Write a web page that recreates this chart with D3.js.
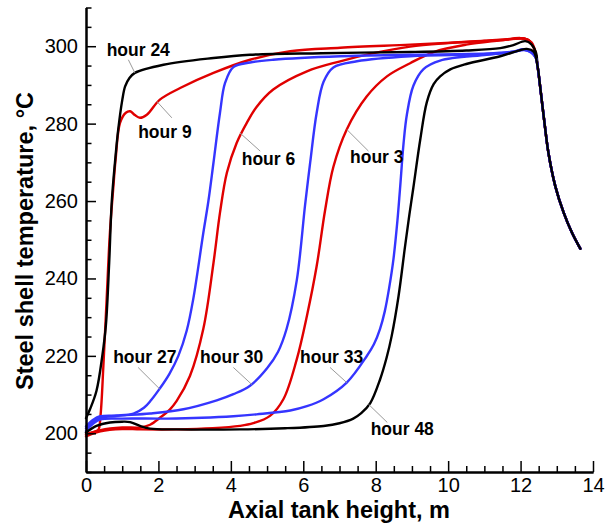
<!DOCTYPE html>
<html><head><meta charset="utf-8">
<script src="https://cdn.jsdelivr.net/npm/d3@7"></script>
<style>body{margin:0;background:#fff}svg{display:block}text{font-family:"Liberation Sans",Arial,sans-serif}</style>
</head><body><svg id="c" width="606" height="526"></svg>
<script>
// ---- data: [axial height m, temperature °C] ----
const coolingTail = [[12.47,294.8],[12.54,289.6],[12.65,281],[12.77,272.4],[12.96,263.8],[13.19,257],[13.42,251.8],[13.65,247.7]];
const hour3 = [[0,199.2],[0.4,200.5],[1.0,201.1],[1.5,201.0],[2.5,201.0],[3.5,201.3],[4.25,201.9],[4.62,202.6],[5.08,204.5],[5.45,208.8],[5.82,219.1],[6.1,230.3],[6.37,243.2],[6.6,257.5],[6.83,268.8],[7.2,278.5],[7.75,287],[8.31,292.2],[8.95,295.6],[9.6,298.5],[10.5,300.4],[11.44,301.5],[12.0,302.1],[12.22,301.6],[12.38,299.3]];
const hour6 = [[0,199.6],[0.4,200.8],[1.0,201.5],[1.5,201.5],[1.77,202.2],[2.04,204],[2.32,206.2],[2.5,208.3],[2.87,214.8],[3.24,227],[3.52,244],[3.7,257],[3.89,267.3],[4.16,275],[4.44,280.2],[4.71,284.3],[5.17,288.8],[6.1,293.5],[7.02,296.1],[7.94,298.2],[8.95,299.9],[10.0,300.8],[11.0,301.4],[11.8,301.9],[12.1,302.0],[12.3,301.0],[12.4,298.8]];
const hour9 = [[0,199.8],[0.2,200.3],[0.34,200.9],[0.4,204.5],[0.48,217.4],[0.57,234.6],[0.66,251.8],[0.75,263],[0.82,271],[0.94,280.2],[1.1,282.8],[1.22,283.2],[1.35,282.2],[1.49,281.5],[1.68,282.3],[2.04,286.2],[2.6,289.2],[3.52,293.1],[4.53,296.5],[5.64,298.7],[7.02,299.6],[8.95,300.4],[10.5,301.1],[11.5,301.6],[12.0,302.0],[12.2,301.6],[12.38,299.3]];
const hour24 = [[0,203.9],[0.11,206.2],[0.29,211],[0.45,220],[0.55,228],[0.64,244],[0.71,259.6],[0.8,270],[0.89,278.5],[1.0,286],[1.08,289.6],[1.2,291.8],[1.35,293.1],[2.14,295.2],[3.52,296.95],[4.53,297.8],[6.5,298.2],[8.95,298.5],[10.5,298.9],[11.44,299.5],[11.8,300.3],[12.13,301.3],[12.3,300.5],[12.43,298.2]];
const hour27 = [[0,201.8],[0.2,203.5],[0.39,204.4],[0.85,204.6],[1.31,205.1],[1.6,206.6],[1.8,208.6],[2.04,211.6],[2.3,215.3],[2.55,220],[2.78,226.5],[2.96,234.6],[3.24,251.8],[3.38,260],[3.52,269.9],[3.7,282.8],[3.84,290.5],[4.07,294.6],[4.53,295.8],[5.17,296.5],[7.02,297.4],[8.95,297.8],[11.07,298.1],[11.8,298.6],[12.1,299.1],[12.3,298.4],[12.42,297]];
const hour30 = [[0,201.3],[0.2,203],[0.4,204],[0.85,204.5],[1.77,205.1],[2.69,206.2],[3.61,208.5],[4.07,210.1],[4.53,212.3],[5.0,216.8],[5.3,221],[5.54,227],[5.82,239.5],[6.05,259],[6.19,269.9],[6.37,282.8],[6.56,290.8],[6.83,294.5],[7.48,296.1],[8.95,297.4],[11.07,297.9],[11.8,298.5],[12.1,299],[12.3,298.3],[12.42,297]];
const hour33 = [[0,200.6],[0.2,202.5],[0.4,203.6],[1.0,203.8],[2.23,203.8],[3.2,204.0],[4.07,204.4],[4.71,204.9],[5.64,205.9],[6.1,207],[6.56,208.8],[7.2,213.1],[7.75,219.9],[7.95,223],[8.12,227],[8.25,231.5],[8.37,237.5],[8.49,245],[8.6,255],[8.67,263],[8.77,275],[8.86,282.3],[9.04,289.8],[9.32,294.1],[9.78,296.3],[11.07,297.8],[11.8,298.6],[12.08,299.2],[12.3,298.4],[12.42,297]];
const hour48 = [[0,200.2],[0.29,201.9],[0.66,202.8],[1.0,203.0],[1.22,202.9],[1.49,201.9],[1.77,201.2],[2.5,201.0],[4.25,201.0],[5.5,201.3],[6.56,201.9],[7.0,202.6],[7.38,203.8],[7.6,205.2],[7.85,207.8],[8.12,213.9],[8.3,219.5],[8.44,225.1],[8.63,235.4],[8.81,248.3],[8.93,256.5],[9.04,263.5],[9.23,275.9],[9.41,285.5],[9.6,290.2],[9.78,292.2],[10.06,294.0],[10.5,295.4],[11.44,297.4],[11.99,299.0],[12.17,299.3],[12.36,298.6]];

const seriesNames = ["hour 3","hour 6","hour 9","hour 24","hour 27","hour 30","hour 33","hour 48"];
const seriesData = [hour3,hour6,hour9,hour24,hour27,hour30,hour33,hour48];
const seriesColors = ["#e00000","#e00000","#e00000","#000000","#3535ff","#3535ff","#3535ff","#000000"];

// label text, label x, label baseline temp, leader start [x,t], leader end [x,t]
const labelNames = ["hour 24","hour 9","hour 6","hour 3","hour 27","hour 30","hour 33","hour 48"];
const labelPos = [[0.57,297.4],[1.44,276.2],[4.3,269.4],[7.29,269.8],[0.75,218.2],[3.15,218.2],[5.91,218.2],[7.86,199.6]];
const leaderFrom = [[1.17,296.5],[2.37,281.5],[4.81,272.9],[7.8,272.9],[1.44,217],[4.07,217],[6.74,217],[7.8,207.5]];
const leaderTo = [[1.35,293.1],[1.95,285.8],[4.25,277.6],[7.2,278.5],[2.04,211.4],[4.58,212.6],[7.2,213.1],[8.32,202.8]];

const xMajor = [0,2,4,6,8,10,12,14];
const yMajor = [200,220,240,260,280,300];

// ---- drawing ----
const svg = d3.select("#c");
svg.append("rect").attr("width",606).attr("height",526).attr("fill","#fff");
const x = d3.scaleLinear().domain([0,14]).range([86,593]);
const y = d3.scaleLinear().domain([190,310]).range([472,7.5]);

const xMinor = d3.range(0,14.01,0.5).filter(v=>!xMajor.includes(v));
const yMinor = d3.range(190,310.01,5).filter(v=>!yMajor.includes(v));

const line = d3.line().x(d=>x(d[0])).y(d=>y(d[1])).curve(d3.curveCatmullRom.alpha(0.5));
const g = svg.append("g");
seriesData.forEach((s,i)=>{
  g.append("path").datum(s.concat(coolingTail)).attr("d",line)
   .attr("fill","none").attr("stroke",seriesColors[i]).attr("stroke-width",2.4)
   .attr("stroke-linejoin","round").attr("stroke-linecap","round");
});

// leaders & labels
labelNames.forEach((n,i)=>{
  svg.append("line").attr("x1",x(leaderFrom[i][0])).attr("y1",y(leaderFrom[i][1]))
    .attr("x2",x(leaderTo[i][0])).attr("y2",y(leaderTo[i][1]))
    .attr("stroke","#9a9a9a").attr("stroke-width",1);
  svg.append("text").attr("x",x(labelPos[i][0])).attr("y",y(labelPos[i][1]))
    .attr("font-size",17.5).attr("font-weight","bold").attr("fill","#000").text(n);
});

// axes
svg.append("g").attr("transform","translate(0,472)")
  .call(d3.axisBottom(x).tickValues(xMajor).tickSizeInner(-11).tickSizeOuter(0).tickPadding(6).tickFormat(d3.format("d")));
svg.append("g").attr("transform","translate(0,472)")
  .call(d3.axisBottom(x).tickValues(xMinor).tickSizeInner(-6).tickSizeOuter(0).tickFormat(""));
svg.append("g").attr("transform","translate(86,0)")
  .call(d3.axisLeft(y).tickValues(yMajor).tickSizeInner(-10).tickSizeOuter(0).tickPadding(8).tickFormat(d3.format("d")));
svg.append("g").attr("transform","translate(86,0)")
  .call(d3.axisLeft(y).tickValues(yMinor).tickSizeInner(-5.5).tickSizeOuter(0).tickFormat(""));
svg.selectAll(".domain").attr("stroke","#000").attr("stroke-width",2);
svg.selectAll(".tick line").attr("stroke","#000").attr("stroke-width",1.5);
svg.selectAll(".tick text").attr("font-size",20).attr("font-family","Liberation Sans, Arial, sans-serif").attr("fill","#000");

svg.append("text").attr("x",339).attr("y",518).attr("text-anchor","middle")
  .attr("font-size",23.5).attr("font-weight","bold").text("Axial tank height, m");
svg.append("text").attr("transform","translate(33,241) rotate(-90)").attr("text-anchor","middle")
  .attr("font-size",23.5).attr("font-weight","bold").text("Steel shell temperature, °C");
</script></body></html>
